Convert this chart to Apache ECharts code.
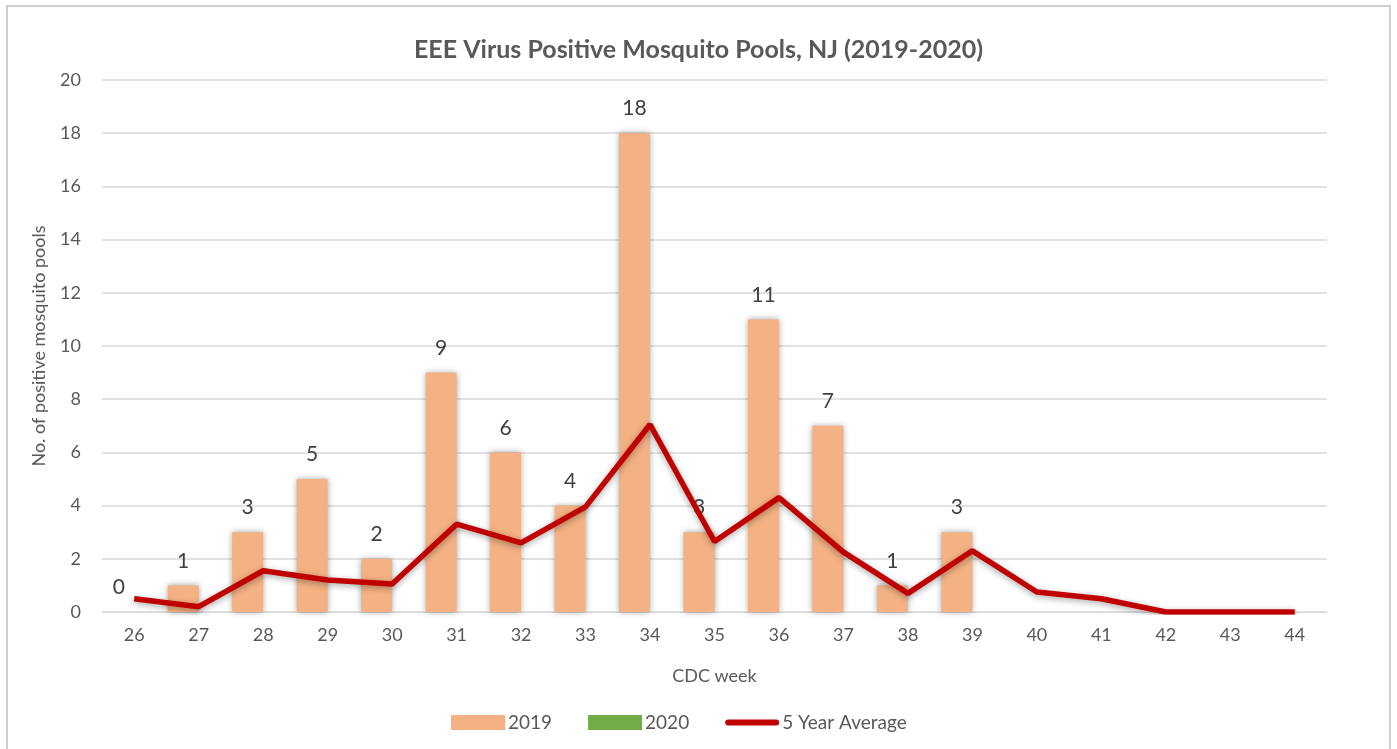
<!DOCTYPE html>
<html>
<head>
<meta charset="utf-8">
<script src="https://cdn.jsdelivr.net/npm/echarts@6/dist/echarts.min.js"></script>
<style>
  html, body { margin: 0; padding: 0; background: #fff; }
  #chart { width: 1397px; height: 749px; }
</style>
</head>
<body>
<div id="chart"></div>
<script>
const weeks = ["26", "27", "28", "29", "30", "31", "32", "33", "34", "35", "36", "37", "38", "39", "40", "41", "42", "43", "44"];
const pools2019 = [0, 1, 3, 5, 2, 9, 6, 4, 18, 3, 11, 7, 1, 3, null, null, null, null, null];
const pools2020 = [null, null, null, null, null, null, null, null, null, null, null, null, null, null, null, null, null, null, null];
const fiveYearAvg = [0.5, 0.2, 1.55, 1.2, 1.05, 3.3, 2.6, 3.95, 7.05, 2.65, 4.3, 2.25, 0.7, 2.3, 0.75, 0.5, 0, 0, 0];
const yTicks = { min: 0, max: 20, interval: 2 };

const fontFamily = "Lato, 'Open Sans', sans-serif";
const chart = echarts.init(document.getElementById("chart"));

const option = {
  animation: false,
  textStyle: { fontFamily: fontFamily },
  graphic: [
    {
      type: "rect",
      shape: { x: 7, y: 6, width: 1383, height: 770 },
      style: { fill: "none", stroke: "#BFBFBF", lineWidth: 1.5 },
      silent: true
    }
  ],
  title: {
    text: "EEE Virus Positive Mosquito Pools, NJ (2019-2020)",
    left: "center",
    top: 32,
    textStyle: { fontSize: 25, fontWeight: "bold", color: "#595959", fontFamily: fontFamily }
  },
  legend: {
    bottom: 12,
    left: 446,
    itemGap: 36,
    itemWidth: 54,
    itemHeight: 15,
    textStyle: { fontSize: 19, color: "#595959", padding: [0, 0, 0, -2] },
    data: [
      { name: "2019", icon: "rect" },
      { name: "2020", icon: "rect" },
      { name: "5 Year Average", icon: "path://M3,0 L51,0 A3,3 0 0 1 51,6 L3,6 A3,3 0 0 1 3,0 Z" }
    ]
  },
  grid: { left: 102, right: 70, top: 80, bottom: 137 },
  xAxis: {
    type: "category",
    data: weeks,
    name: "CDC week",
    nameLocation: "middle",
    nameGap: 55,
    nameTextStyle: { fontSize: 18, color: "#595959" },
    axisLine: { lineStyle: { color: "#D9D9D9", width: 1 } },
    axisTick: { show: false },
    axisLabel: { fontSize: 18, color: "#595959", margin: 14 }
  },
  yAxis: {
    type: "value",
    min: yTicks.min,
    max: yTicks.max,
    interval: yTicks.interval,
    name: "No. of positive mosquito pools",
    nameLocation: "middle",
    nameGap: 54,
    nameTextStyle: { fontSize: 18, color: "#595959" },
    axisLine: { show: false },
    axisTick: { show: false },
    axisLabel: { fontSize: 18, color: "#595959", margin: 21 },
    splitLine: { lineStyle: { color: "#D9D9D9", width: 1.5 } }
  },
  series: [
    {
      name: "2019",
      type: "bar",
      data: pools2019,
      barWidth: 31,
      barGap: "0%",
      itemStyle: {
        color: "#F4B183",
        shadowBlur: 6,
        shadowColor: "rgba(0,0,0,0.35)",
        shadowOffsetX: 0
      },
      label: {
        show: true,
        position: "top",
        distance: 14,
        fontSize: 21,
        color: "#404040"
      },
      z: 2
    },
    {
      name: "2020",
      type: "bar",
      data: pools2020,
      barWidth: 31,
      itemStyle: { color: "#70AD47" },
      z: 2
    },
    {
      name: "5 Year Average",
      type: "line",
      data: fiveYearAvg,
      symbol: "none",
      lineStyle: {
        color: "#C00000",
        width: 5.5,
        shadowBlur: 6,
        shadowColor: "rgba(0,0,0,0.35)",
        shadowOffsetY: 2
      },
      itemStyle: { color: "#C00000" },
      z: 3
    }
  ]
};

chart.setOption(option);
</script>
</body>
</html>
